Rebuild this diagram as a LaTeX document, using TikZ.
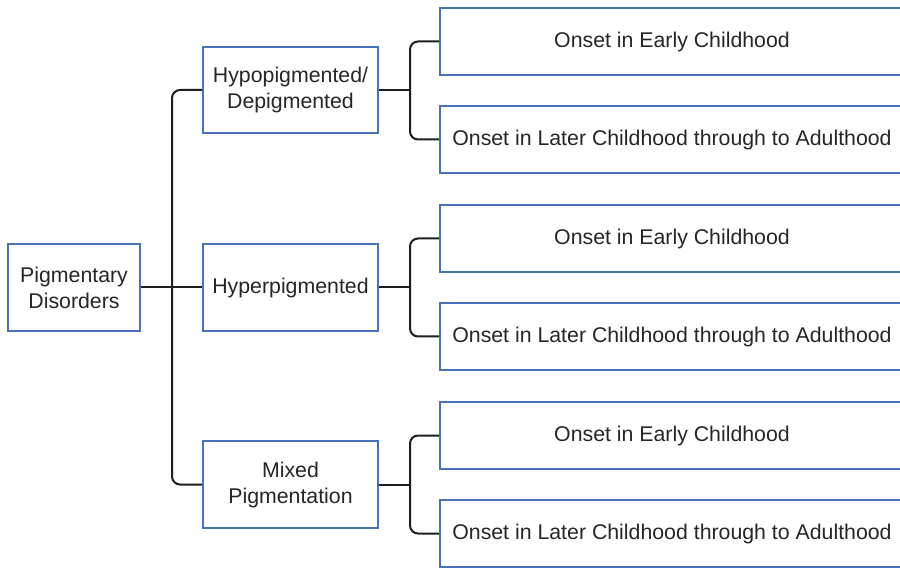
\documentclass[tikz,border=0pt]{standalone}
\usepackage{fontspec}
\setmainfont{Liberation Sans}
\definecolor{boxblue}{HTML}{4A72B8}
\definecolor{linegray}{HTML}{1E1E1E}
\begin{document}
\begin{tikzpicture}[x=1pt,y=-1pt,
  box/.style={draw=boxblue,line width=1.8pt,fill=white,inner sep=0pt,align=center,
    font=\fontsize{21.3}{26}\selectfont,text=black!85},
  conn/.style={draw=linegray,line width=2pt,rounded corners=8pt}]
\useasboundingbox (0,0) rectangle (900,569);
\clip (0,0) rectangle (900,569);
% root
\node[box,minimum width=132pt,minimum height=87pt] (root) at (74,287.5) {Pigmentary\\Disorders};
% middle
\node[box,minimum width=175pt,minimum height=86pt] (m1) at (290.5,90) {Hypopigmented/\\Depigmented};
\node[box,minimum width=175pt,minimum height=87pt] (m2) at (290.5,287.5) {Hyperpigmented};
\node[box,minimum width=175pt,minimum height=87pt] (m3) at (290.5,484.5) {Mixed\\Pigmentation};
% right
\foreach \n/\y/\t in {r1/41.5/{Onset in Early Childhood},
                      r2/139.5/{Onset in Later Childhood through to Adulthood},
                      r3/238.5/{Onset in Early Childhood},
                      r4/336.5/{Onset in Later Childhood through to Adulthood},
                      r5/435.5/{Onset in Early Childhood},
                      r6/533.5/{Onset in Later Childhood through to Adulthood}}{
  \node[box,minimum width=464pt,minimum height=67pt] (\n) at (672,\y) {\t};
}
% connectors root -> middle
\coordinate (j0) at (172,287.5);
\draw[conn] (root.east) -- (j0);
\draw[conn] (m1.west) -| (j0) |- (m3.west);
\draw[conn] (j0) -- (m2.west);
% middle -> right
\foreach \m/\a/\b in {m1/r1/r2, m2/r3/r4, m3/r5/r6}{
  \coordinate (j\m) at (410,0 |- \m.east);
  \draw[conn] (\m.east) -- (j\m);
  \draw[conn] (\a.west) -| (j\m) |- (\b.west);
}
\end{tikzpicture}
\end{document}
